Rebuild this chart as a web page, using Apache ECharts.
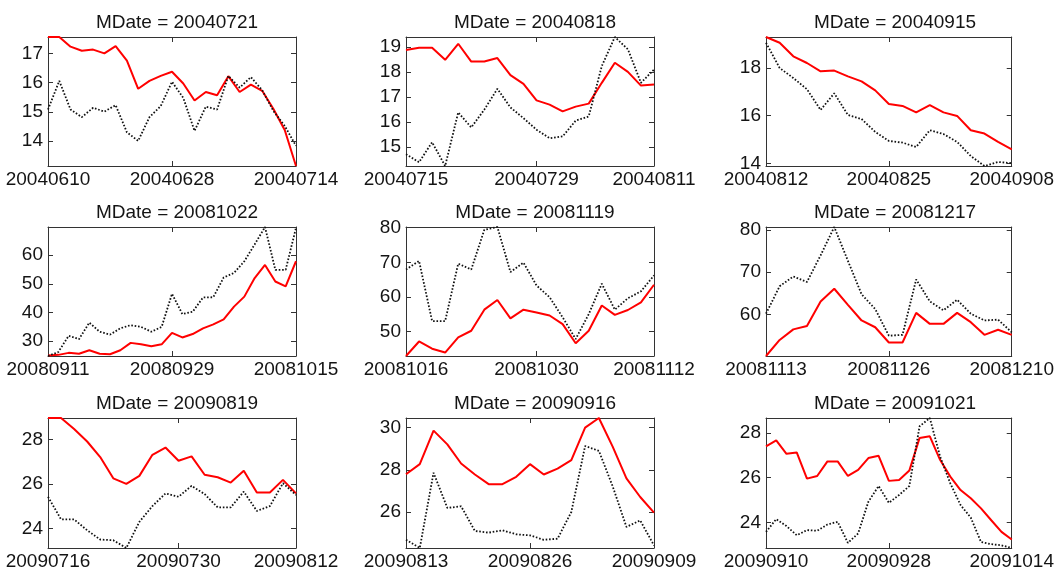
<!DOCTYPE html>
<html><head><meta charset="utf-8">
<script src="https://cdn.jsdelivr.net/npm/echarts@6/dist/echarts.min.js"></script>
<style>html,body{margin:0;padding:0;background:#fff}#c{width:1057px;height:574px}</style>
</head><body><div id="c"></div>
<script>
// ---------- DATA ----------
const titles = ['MDate = 20040721','MDate = 20040818','MDate = 20040915',
                'MDate = 20081022','MDate = 20081119','MDate = 20081217',
                'MDate = 20090819','MDate = 20090916','MDate = 20091021'];

const dates1 = ['20040610','20040614','20040615','20040616','20040617','20040618','20040621','20040622','20040623','20040624','20040625','20040628','20040629','20040630','20040701','20040702','20040706','20040707','20040708','20040709','20040712','20040713','20040714'];
const dates2 = ['20040715','20040716','20040719','20040720','20040721','20040722','20040723','20040726','20040727','20040728','20040729','20040730','20040802','20040803','20040804','20040805','20040806','20040809','20040810','20040811'];
const dates3 = ['20040812','20040813','20040816','20040817','20040818','20040819','20040820','20040823','20040824','20040825','20040826','20040827','20040830','20040831','20040901','20040902','20040903','20040907','20040908'];
const dates4 = ['20080911','20080912','20080915','20080916','20080917','20080918','20080919','20080922','20080923','20080924','20080925','20080926','20080929','20080930','20081001','20081002','20081003','20081006','20081007','20081008','20081009','20081010','20081013','20081014','20081015'];
const dates5 = ['20081016','20081017','20081020','20081021','20081022','20081023','20081024','20081027','20081028','20081029','20081030','20081031','20081103','20081104','20081105','20081106','20081107','20081110','20081111','20081112'];
const dates6 = ['20081113','20081114','20081117','20081118','20081119','20081120','20081121','20081124','20081125','20081126','20081128','20081201','20081202','20081203','20081204','20081205','20081208','20081209','20081210'];
const dates7 = ['20090716','20090717','20090720','20090721','20090722','20090723','20090724','20090727','20090728','20090729','20090730','20090731','20090803','20090804','20090805','20090806','20090807','20090810','20090811','20090812'];
const dates8 = ['20090813','20090814','20090817','20090818','20090819','20090820','20090821','20090824','20090825','20090826','20090827','20090828','20090831','20090901','20090902','20090903','20090904','20090908','20090909'];
const dates9 = ['20090910','20090911','20090914','20090915','20090916','20090917','20090918','20090921','20090922','20090923','20090924','20090925','20090928','20090929','20090930','20091001','20091002','20091005','20091006','20091007','20091008','20091009','20091012','20091013','20091014'];

const xTicks1 = ['20040610','20040628','20040714'];
const xTicks2 = ['20040715','20040729','20040811'];
const xTicks3 = ['20040812','20040825','20040908'];
const xTicks4 = ['20080911','20080929','20081015'];
const xTicks5 = ['20081016','20081030','20081112'];
const xTicks6 = ['20081113','20081126','20081210'];
const xTicks7 = ['20090716','20090730','20090812'];
const xTicks8 = ['20090813','20090826','20090909'];
const xTicks9 = ['20090910','20090928','20091014'];

const red1 = [17.56,17.56,17.23,17.09,17.13,17.0,17.25,16.75,15.79,16.06,16.23,16.37,15.97,15.39,15.68,15.57,16.22,15.68,15.93,15.72,15.10,14.38,13.15];
const dot1 = [15.08,16.06,15.08,14.82,15.14,15.01,15.23,14.30,14.01,14.82,15.20,16.03,15.48,14.35,15.18,15.08,16.23,15.83,16.19,15.74,15.03,14.52,13.84];
const red2 = [18.88,18.97,18.97,18.49,19.13,18.42,18.42,18.56,17.88,17.53,16.87,16.70,16.43,16.62,16.74,17.57,18.37,18.01,17.46,17.50];
const dot2 = [14.72,14.40,15.20,14.25,16.39,15.79,16.50,17.33,16.59,16.16,15.70,15.36,15.43,16.06,16.23,18.24,19.40,18.91,17.57,18.10];
const red3 = [19.30,19.06,18.49,18.21,17.86,17.89,17.65,17.44,17.06,16.49,16.41,16.14,16.44,16.14,15.99,15.39,15.25,14.90,14.59];
const dot3 = [19.06,18.00,17.58,17.11,16.24,16.94,16.03,15.86,15.32,14.94,14.87,14.69,15.39,15.23,14.90,14.31,13.89,14.06,14.01];
const red4 = [24.9,25.1,25.8,25.5,26.7,25.5,25.3,26.7,29.3,28.8,28.1,28.8,32.8,31.2,32.4,34.4,35.8,37.5,42.0,45.5,52.0,56.6,50.8,49.1,57.9];
const dot4 = [24.7,26.1,31.8,30.6,36.4,33.2,32.2,34.4,35.5,34.9,33.2,34.9,46.5,39.4,40.2,45.2,45.3,52.2,53.8,57.9,63.8,69.9,54.9,54.9,69.6];
const red5 = [42.9,47.1,45.0,43.9,48.3,50.2,56.3,59.1,53.8,56.3,55.5,54.6,52.1,46.6,50.2,57.5,54.8,56.2,58.4,63.5];
const dot5 = [67.9,70.4,53.0,53.0,69.6,67.9,79.4,80.2,67.2,69.9,63.3,59.9,54.1,47.8,55.0,63.8,56.3,59.6,61.6,66.2];
const red6 = [50.2,54.0,56.5,57.3,63.1,66.1,62.3,58.6,57.0,53.4,53.4,60.4,57.8,57.8,60.4,58.2,55.2,56.4,55.2];
const dot6 = [60.2,66.7,69.0,67.7,74.0,80.7,72.7,64.8,61.3,55.0,55.2,68.3,63.1,61.0,63.5,60.2,58.6,58.8,55.8];
const red7 = [28.98,28.98,28.48,27.92,27.22,26.26,26.01,26.37,27.32,27.65,27.05,27.25,26.42,26.31,26.07,26.60,25.62,25.62,26.19,25.58];
const dot7 = [25.43,24.41,24.41,23.92,23.50,23.47,23.12,24.30,25.01,25.58,25.43,25.92,25.55,24.95,24.95,25.66,24.79,25.01,26.04,25.51];
const red8 = [27.79,28.27,29.86,29.21,28.30,27.78,27.32,27.32,27.67,28.27,27.78,28.06,28.46,30.00,30.46,29.10,27.59,26.71,25.97];
const dot8 = [24.68,24.29,27.86,26.19,26.27,25.10,25.02,25.13,24.94,24.89,24.68,24.73,26.00,29.13,28.90,27.22,25.29,25.60,24.41];
const red9 = [27.40,27.67,27.07,27.13,25.96,26.08,26.73,26.73,26.08,26.35,26.88,26.98,25.86,25.90,26.32,27.78,27.85,26.80,26.05,25.45,25.08,24.63,24.10,23.58,23.24];
const dot9 = [23.58,24.15,23.84,23.43,23.66,23.63,23.91,24.03,23.09,23.51,24.93,25.63,24.88,25.23,25.63,28.30,28.67,26.95,25.75,24.78,24.22,23.13,23.03,22.98,22.86];

// ---------- LAYOUT ----------
const dates = [dates1,dates2,dates3,dates4,dates5,dates6,dates7,dates8,dates9];
const xTicks = [xTicks1,xTicks2,xTicks3,xTicks4,xTicks5,xTicks6,xTicks7,xTicks8,xTicks9];
const reds = [red1,red2,red3,red4,red5,red6,red7,red8,red9];
const dots = [dot1,dot2,dot3,dot4,dot5,dot6,dot7,dot8,dot9];
const splitNums = [4,5,3,5,5,3,3,3,3];

const colLeft = [48, 406, 766];
const rowTop = [37, 227, 418];
const rowH = [129, 129, 130];
const W = 248;
const titleTop = [8, 198, 389];

const FONT = "'Liberation Sans', Arial, Helvetica, sans-serif";
const AX = '#333333';
const TXT = '#141414';
const FS = 19;

const grid = [], xAxis = [], yAxis = [], series = [], title = [];
for (let i = 0; i < 9; i++) {
  const r = Math.floor(i / 3), c = i % 3;
  grid.push({left: colLeft[c], top: rowTop[r], width: W, height: rowH[r],
    show: false, containLabel: false});
  title.push({text: titles[i], left: colLeft[c] + W / 2, top: titleTop[r], textAlign: 'center',
    textStyle: {fontFamily: FONT, fontSize: FS, fontWeight: 'normal', color: TXT}});
  const tk = xTicks[i];
  const showTick = (idx, val) => tk.indexOf(val) >= 0;
  const lo = Math.min(...reds[i], ...dots[i]);
  const hi = Math.max(...reds[i], ...dots[i]);
  const base = {gridIndex: i, min: lo, max: hi, splitNumber: splitNums[i], type: 'value',
    splitLine: {show: false},
    axisLine: {show: true, onZero: false, lineStyle: {color: AX, width: 1}},
    axisTick: {show: true, inside: true, length: 5, lineStyle: {color: AX}}};
  yAxis.push(Object.assign({}, base, {position: 'left',
    axisLabel: {show: true, showMinLabel: false, showMaxLabel: false, margin: 5,
      fontFamily: FONT, fontSize: FS, color: TXT}}));
  yAxis.push(Object.assign({}, base, {position: 'right', axisLabel: {show: false}}));
  const xb = {gridIndex: i, type: 'category', data: dates[i], boundaryGap: false,
    splitLine: {show: false},
    axisLine: {show: true, onZero: false, lineStyle: {color: AX, width: 1}},
    axisTick: {show: true, inside: true, length: 5, interval: showTick, lineStyle: {color: AX}}};
  xAxis.push(Object.assign({}, xb, {position: 'bottom',
    axisLabel: {show: true, interval: showTick, margin: 4, fontFamily: FONT, fontSize: FS, color: TXT,
      showMinLabel: true, showMaxLabel: true}}));
  xAxis.push(Object.assign({}, xb, {position: 'top', axisLabel: {show: false}}));
  series.push({type: 'line', xAxisIndex: 2 * i, yAxisIndex: 2 * i, data: reds[i],
    showSymbol: false, symbol: 'none', lineStyle: {color: '#ff0000', width: 2}, z: 2});
  series.push({type: 'line', xAxisIndex: 2 * i, yAxisIndex: 2 * i, data: dots[i],
    showSymbol: false, symbol: 'none', lineStyle: {color: '#111111', width: 1.8, type: [1.6, 1.8]}, z: 3});
}

const chart = echarts.init(document.getElementById('c'), null, {renderer: 'canvas'});
chart.setOption({animation: false, backgroundColor: '#ffffff', title, grid, xAxis, yAxis, series,
  tooltip: {show: false}});
</script></body></html>
